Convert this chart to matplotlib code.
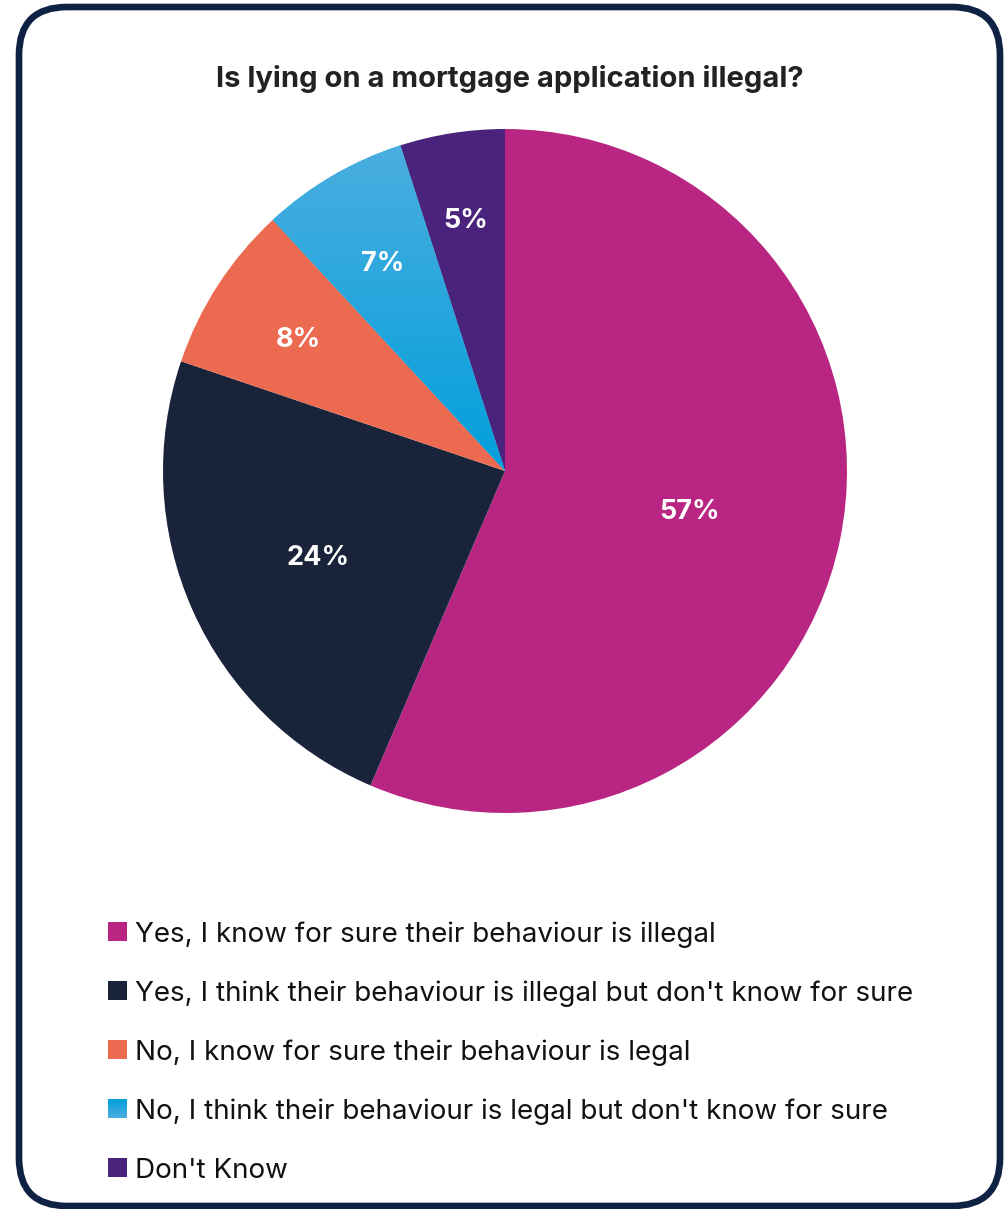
import numpy as np
import matplotlib.pyplot as plt
from matplotlib.patches import FancyBboxPatch, Rectangle
from matplotlib.colors import LinearSegmentedColormap

# Survey answers and shares (%)
answers = [
    "Yes, I know for sure their behaviour is illegal",
    "Yes, I think their behaviour is illegal but don't know for sure",
    "No, I know for sure their behaviour is legal",
    "No, I think their behaviour is legal but don't know for sure",
    "Don't Know",
]
shares = [57, 24, 8, 7, 5]
colors = ["#b82582", "#19233a", "#ec6b50", "#1ea5de", "#4a247c"]
title = "Is lying on a mortgage application illegal?"

# label radius as a fraction of the pie radius
label_r = [0.55, 0.60, 0.72, 0.71, 0.75]

plt.rcParams['font.family'] = ['Inter', 'DejaVu Sans']

W, H = 1007, 1209
fig = plt.figure(figsize=(W / 100, H / 100), dpi=100)

# overlay axes in pixel units for frame, title and legend
bg = fig.add_axes([0, 0, 1, 1])
bg.set_xlim(0, W)
bg.set_ylim(H, 0)
bg.axis('off')

frame = FancyBboxPatch((19, 7), 981, 1199,
                       boxstyle="round,pad=0,rounding_size=48",
                       fc="white", ec="#0f2244", lw=4.8, zorder=0)
bg.add_patch(frame)

bg.text(510, 76, title, ha='center', va='center_baseline', fontsize=21,
        fontweight='bold', color='#222222')

# pie
cx, cy, R = 505, 471, 342
ax = fig.add_axes([(cx - R) / W, (H - cy - R) / H, 2 * R / W, 2 * R / H])
wedges, _ = ax.pie(shares, colors=colors, startangle=90, counterclock=False,
                   radius=1, wedgeprops=dict(linewidth=0))
ax.set_xlim(-1, 1)
ax.set_ylim(-1, 1)
ax.axis('off')

# soft vertical gradient on the blue slice
blue_grad = LinearSegmentedColormap.from_list("bg", ["#009fdb", "#4caee0"])
grad = np.linspace(0, 1, 256).reshape(-1, 1)
im = ax.imshow(grad, cmap=blue_grad, origin='lower', aspect='auto',
               extent=(-1, 0, -0.02, 0.97), zorder=wedges[3].get_zorder() + 0.1)
im.set_clip_path(wedges[3])
ax.set_xlim(-1, 1)
ax.set_ylim(-1, 1)

for w, s, r in zip(wedges, shares, label_r):
    mid = np.deg2rad((w.theta1 + w.theta2) / 2)
    ax.text(r * np.cos(mid), r * np.sin(mid), f"{s}%", ha='center',
            va='center_baseline', color='white', fontsize=19.5,
            fontweight='bold', zorder=5)

# legend
y0, dy = 932, 59
for i, (lab, col) in enumerate(zip(answers, colors)):
    y = y0 + i * dy
    if i == 3:
        bg.imshow(grad, cmap=blue_grad, origin='upper', aspect='auto',
                  extent=(108, 127, y + 9, y - 10), zorder=2)
    else:
        bg.add_patch(Rectangle((108, y - 10), 19, 19, fc=col, ec='none', zorder=2))
    bg.text(135, y, lab, ha='left', va='center_baseline', fontsize=20,
            color='#111111')

bg.set_xlim(0, W)
bg.set_ylim(H, 0)

fig.savefig("out.png", dpi=100)
